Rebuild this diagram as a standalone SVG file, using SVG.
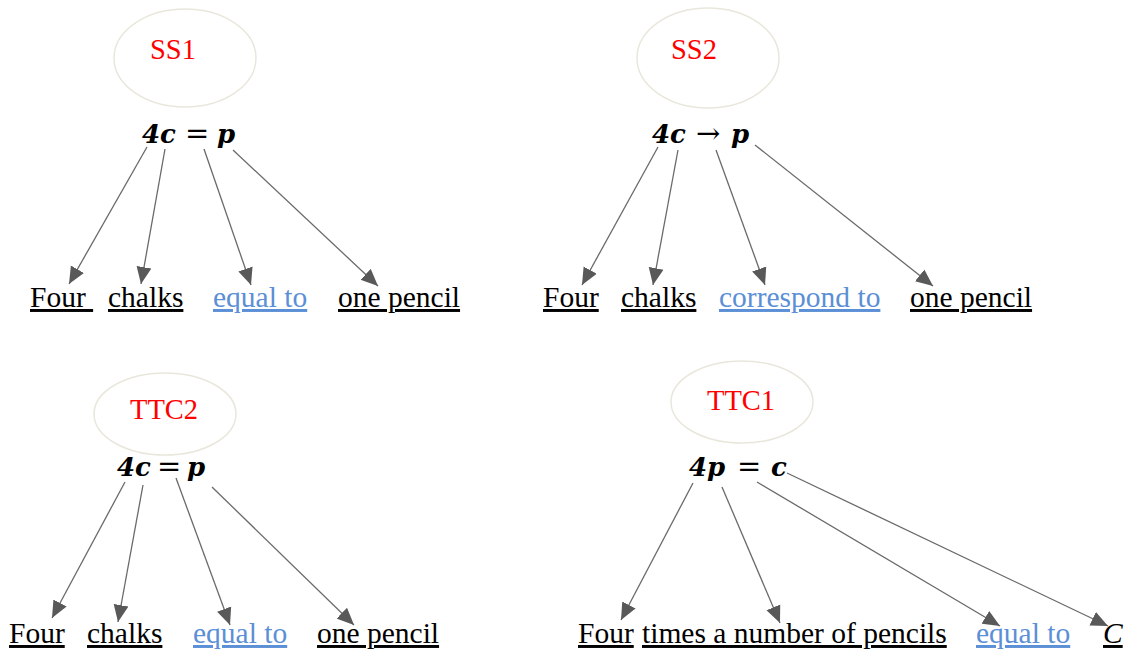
<svg xmlns="http://www.w3.org/2000/svg" width="1130" height="654" viewBox="0 0 1130 654">
  <style>
    .bubble { fill: #ffffff; stroke: #e9e7dc; stroke-width: 1.5; }
    .tag { font-family: "Liberation Serif", "Times New Roman", serif; font-size: 28.5px; fill: #ff0000; }
    .eq { font-family: "DejaVu Serif", serif; font-size: 26px; fill: #000000; }
    .var { font-weight: bold; font-style: italic; }
    .rel { font-size: 29px; }
    .word { font-family: "Liberation Serif", "Times New Roman", serif; font-size: 29.5px; fill: #000000; text-decoration: underline; }
    .link { fill: #5b8fd6; }
    .edge { stroke: #6a6a6a; stroke-width: 1.3; fill: none; marker-end: url(#head); }
  </style>
  <defs>
    <marker id="head" markerUnits="userSpaceOnUse" markerWidth="18" markerHeight="16" viewBox="0 0 18 16" refX="17" refY="8" orient="auto">
      <path d="M0,0.5 L17,8 L0,15.5 Z" fill="#595959"/>
    </marker>
  </defs>

  <rect width="1130" height="654" fill="#ffffff"/>

  <!-- SS1 -->
  <g id="ss1">
    <ellipse class="bubble" cx="185" cy="58" rx="71" ry="49"/>
    <text class="tag" x="150" y="59">SS1</text>
    <text class="eq" y="143"><tspan class="var" x="142">4</tspan><tspan class="var" x="160">c</tspan><tspan class="rel" x="185">=</tspan><tspan class="var" x="217">p</tspan></text>
    <text class="word" x="30" y="307">Four&#160;</text>
    <text class="word" x="108" y="307">chalks</text>
    <text class="word link" x="213" y="307">equal to</text>
    <text class="word" x="338" y="307">one pencil</text>
  </g>

  <!-- SS2 -->
  <g id="ss2">
    <ellipse class="bubble" cx="708" cy="58" rx="71" ry="50"/>
    <text class="tag" x="671" y="59">SS2</text>
    <text class="eq" y="143"><tspan class="var" x="652">4</tspan><tspan class="var" x="670">c</tspan><tspan class="rel" x="696">→</tspan><tspan class="var" x="731">p</tspan></text>
    <text class="word" x="543" y="307">Four</text>
    <text class="word" x="621" y="307">chalks</text>
    <text class="word link" x="719" y="307">correspond to</text>
    <text class="word" x="910" y="307">one pencil</text>
  </g>

  <!-- TTC2 -->
  <g id="ttc2">
    <ellipse class="bubble" cx="165" cy="414" rx="71" ry="41"/>
    <text class="tag" x="130" y="419">TTC2</text>
    <text class="eq" y="476"><tspan class="var" x="117">4</tspan><tspan class="var" x="135">c</tspan><tspan class="rel" x="157">=</tspan><tspan class="var" x="187">p</tspan></text>
    <text class="word" x="9" y="643">Four</text>
    <text class="word" x="87" y="643">chalks</text>
    <text class="word link" x="193" y="643">equal to</text>
    <text class="word" x="317" y="643">one pencil</text>
  </g>

  <!-- TTC1 -->
  <g id="ttc1">
    <ellipse class="bubble" cx="742" cy="402" rx="71" ry="41"/>
    <text class="tag" x="707" y="410">TTC1</text>
    <text class="eq" y="476"><tspan class="var" x="689">4</tspan><tspan class="var" x="707">p</tspan><tspan class="rel" x="737">=</tspan><tspan class="var" x="771">c</tspan></text>
    <text class="word" x="578" y="643">Four</text>
    <text class="word" x="642" y="643">times a number of pencils</text>
    <text class="word link" x="976" y="643">equal to</text>
    <text class="word" x="1103" y="643" font-style="italic">C</text>
  </g>

  <!-- connectors -->
  <g id="connectors">
    <line class="edge" x1="147" y1="147" x2="69" y2="284"/>
    <line class="edge" x1="165" y1="149" x2="141" y2="284"/>
    <line class="edge" x1="204" y1="149" x2="251" y2="285"/>
    <line class="edge" x1="233" y1="150" x2="378" y2="286"/>

    <line class="edge" x1="658" y1="147" x2="582" y2="285"/>
    <line class="edge" x1="678" y1="150" x2="653" y2="285"/>
    <line class="edge" x1="716" y1="150" x2="765" y2="285"/>
    <line class="edge" x1="755" y1="145" x2="933" y2="286"/>

    <line class="edge" x1="125" y1="482" x2="52" y2="618"/>
    <line class="edge" x1="143" y1="485" x2="118" y2="622"/>
    <line class="edge" x1="176" y1="478" x2="230" y2="625"/>
    <line class="edge" x1="212" y1="487" x2="354" y2="625"/>

    <line class="edge" x1="693" y1="483" x2="621" y2="620"/>
    <line class="edge" x1="722" y1="487" x2="780" y2="623"/>
    <line class="edge" x1="757" y1="482" x2="1000" y2="626"/>
    <line class="edge" x1="787" y1="473" x2="1108" y2="626"/>
  </g>
</svg>
